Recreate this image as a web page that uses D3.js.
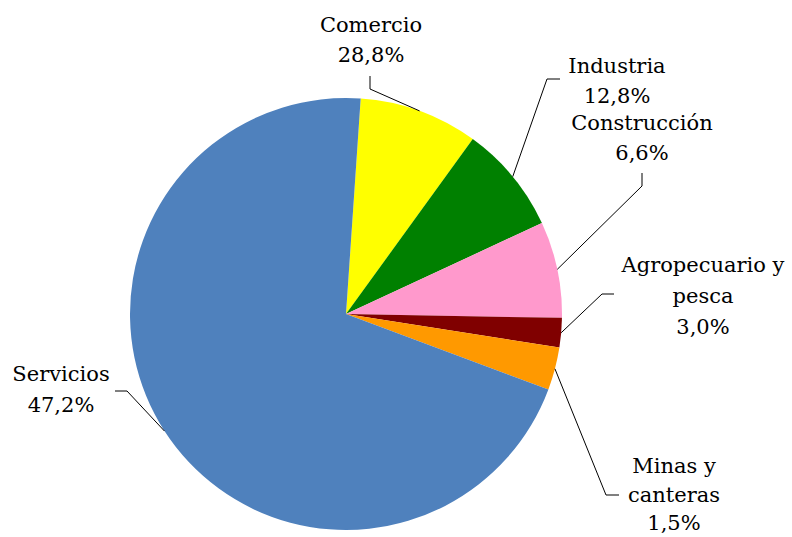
<!DOCTYPE html>
<html>
<head>
<meta charset="utf-8">
<script src="https://cdn.jsdelivr.net/npm/d3@7"></script>
<style>
  body { margin: 0; background: #fff; }
  text { font-family: "DejaVu Serif", serif; font-size: 21px; fill: #000; }
</style>
</head>
<body>
<svg width="792" height="537"></svg>
<script>
// slice order goes clockwise from the top
const sectors = ["Comercio", "Industria", "Construcción", "Agropecuario y pesca", "Minas y canteras", "Servicios"];
const shares = [8.9, 8.1, 7.2, 2.2, 3.2, 70.4];
const labelLines = [
  ["Comercio", "28,8%"],
  ["Industria", "12,8%"],
  ["Construcción", "6,6%"],
  ["Agropecuario y", "pesca", "3,0%"],
  ["Minas y", "canteras", "1,5%"],
  ["Servicios", "47,2%"]
];
const colors = ["#FFFF00", "#008000", "#FF99CC", "#800000", "#FF9900", "#4F81BD"];

// label layout: text centre x, first baseline y, line step, elbow and end of leader line
const layout = [
  { x: 371, y: 32, step: 30, elbow: [370, 89], end: [370, 76] },
  { x: 617, y: 73, step: 30, elbow: [547, 79], end: [560, 79] },
  { x: 642, y: 130, step: 30, elbow: [642, 186], end: [642, 173] },
  { x: 703, y: 272, step: 31, elbow: [602, 294], end: [614, 294] },
  { x: 674, y: 473, step: 28.5, elbow: [606, 495], end: [619, 495] },
  { x: 61, y: 381, step: 30.5, elbow: [127, 391], end: [115, 391] }
];

const svg = d3.select("svg");
const cx = 346, cy = 314, r = 216;
const g = svg.append("g").attr("transform", `translate(${cx},${cy})`);

const pie = d3.pie()
  .sort(null)
  .startAngle(3.9 * Math.PI / 180)
  .endAngle(3.9 * Math.PI / 180 + 2 * Math.PI);
const arcs = pie(shares);
const arc = d3.arc().innerRadius(0).outerRadius(r);

g.selectAll("path")
  .data(arcs)
  .join("path")
  .attr("d", arc)
  .attr("fill", (d, i) => colors[i]);

// leader lines from the slice edge to the label
const edge = d3.arc().innerRadius(r).outerRadius(r);
svg.selectAll("polyline")
  .data(arcs)
  .join("polyline")
  .attr("fill", "none")
  .attr("stroke", "#000")
  .attr("stroke-width", 1)
  .attr("points", (d, i) => {
    const p = edge.centroid(d);
    const l = layout[i];
    return [[p[0] + cx, p[1] + cy], l.elbow, l.end].map(q => q.join(",")).join(" ");
  });

const labels = svg.selectAll("text.lab")
  .data(sectors)
  .join("text")
  .attr("class", "lab")
  .attr("text-anchor", "middle")
  .attr("x", (d, i) => layout[i].x)
  .attr("y", (d, i) => layout[i].y);

labels.selectAll("tspan")
  .data((d, i) => labelLines[i].map(t => ({ t, x: layout[i].x, step: layout[i].step })))
  .join("tspan")
  .attr("x", d => d.x)
  .attr("dy", (d, j) => j === 0 ? 0 : d.step)
  .text(d => d.t);
</script>
</body>
</html>
